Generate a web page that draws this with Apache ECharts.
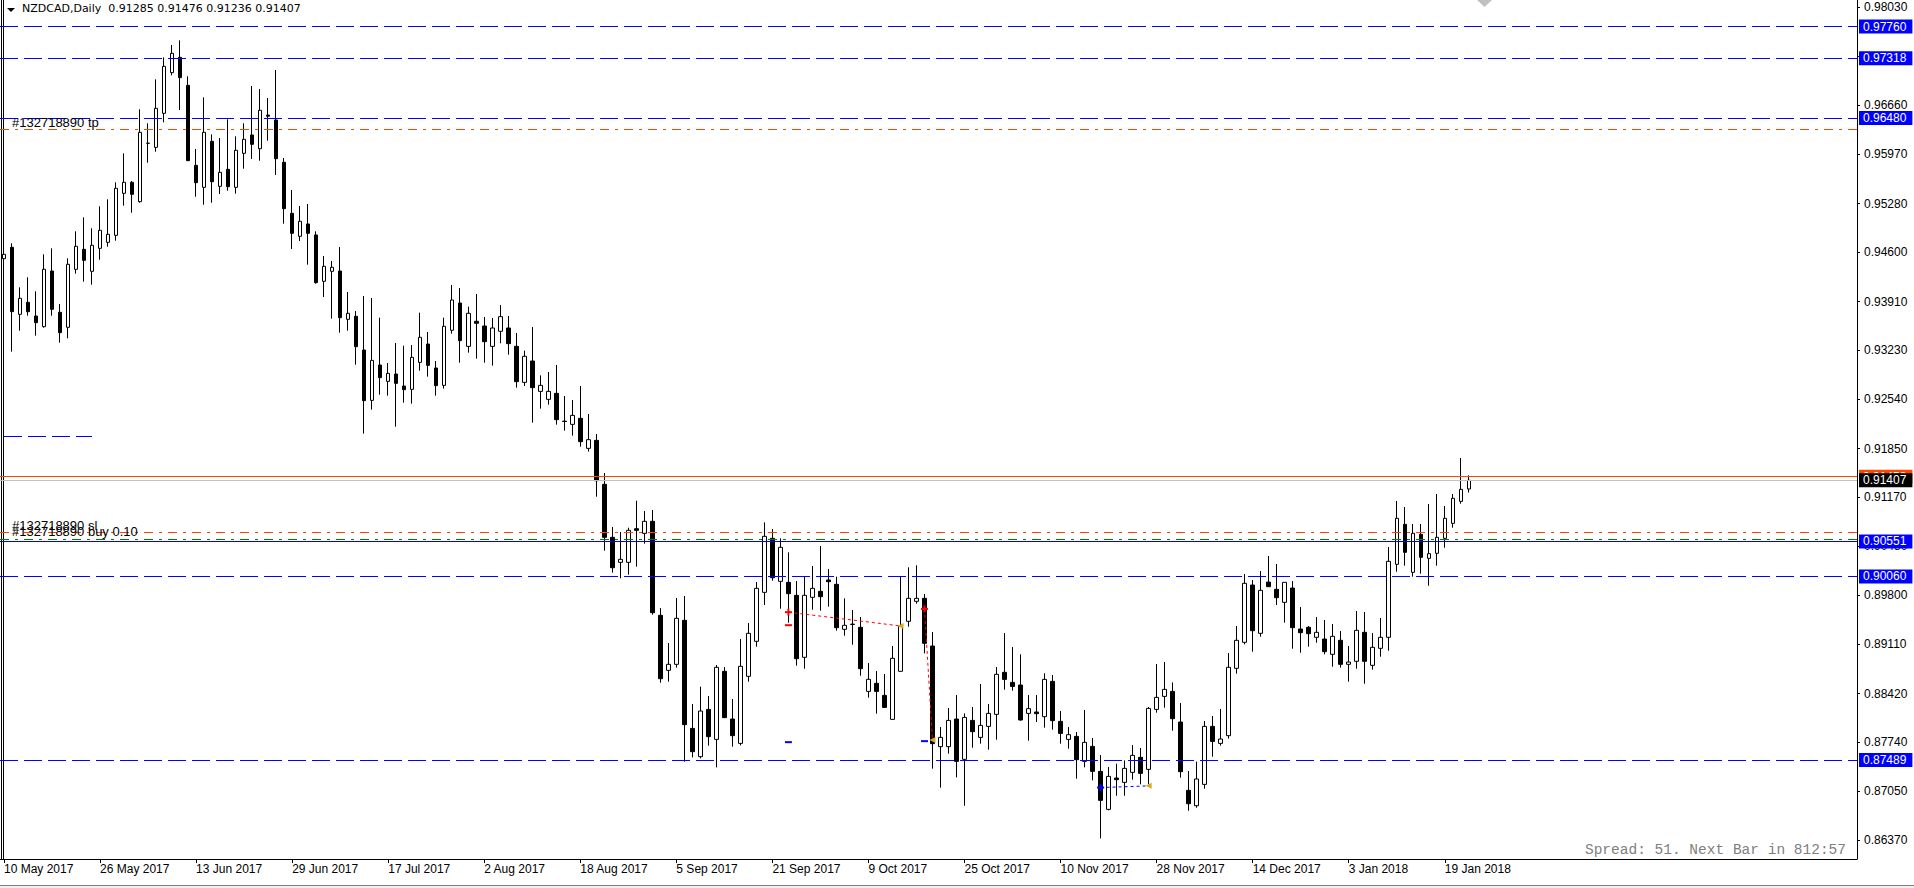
<!DOCTYPE html>
<html>
<head>
<meta charset="utf-8">
<script src="https://cdn.jsdelivr.net/npm/echarts@6/dist/echarts.min.js"></script>
<style>
html,body{margin:0;padding:0;background:#ffffff;}
#chart{width:1914px;height:888px;}
</style>
</head>
<body>
<div id="chart"></div>
<script>
// ---------- categories (daily bars) ----------
const dates = [
'10 May 2017','11 May 2017','12 May 2017','15 May 2017','16 May 2017','17 May 2017','18 May 2017','19 May 2017','22 May 2017','23 May 2017','24 May 2017','25 May 2017','26 May 2017','29 May 2017','30 May 2017','31 May 2017',
'1 Jun 2017','2 Jun 2017','5 Jun 2017','6 Jun 2017','7 Jun 2017','8 Jun 2017','9 Jun 2017','12 Jun 2017','13 Jun 2017','14 Jun 2017','15 Jun 2017','16 Jun 2017','19 Jun 2017','20 Jun 2017','21 Jun 2017','22 Jun 2017','23 Jun 2017','26 Jun 2017','27 Jun 2017','28 Jun 2017','29 Jun 2017','30 Jun 2017',
'3 Jul 2017','4 Jul 2017','5 Jul 2017','6 Jul 2017','7 Jul 2017','10 Jul 2017','11 Jul 2017','12 Jul 2017','13 Jul 2017','14 Jul 2017','17 Jul 2017','18 Jul 2017','19 Jul 2017','20 Jul 2017','21 Jul 2017','24 Jul 2017','25 Jul 2017','26 Jul 2017','27 Jul 2017','28 Jul 2017','31 Jul 2017',
'1 Aug 2017','2 Aug 2017','3 Aug 2017','4 Aug 2017','7 Aug 2017','8 Aug 2017','9 Aug 2017','10 Aug 2017','11 Aug 2017','14 Aug 2017','15 Aug 2017','16 Aug 2017','17 Aug 2017','18 Aug 2017','21 Aug 2017','22 Aug 2017','23 Aug 2017','24 Aug 2017','25 Aug 2017','28 Aug 2017','29 Aug 2017','30 Aug 2017','31 Aug 2017',
'1 Sep 2017','4 Sep 2017','5 Sep 2017','6 Sep 2017','7 Sep 2017','8 Sep 2017','11 Sep 2017','12 Sep 2017','13 Sep 2017','14 Sep 2017','15 Sep 2017','18 Sep 2017','19 Sep 2017','20 Sep 2017','21 Sep 2017','22 Sep 2017','25 Sep 2017','26 Sep 2017','27 Sep 2017','28 Sep 2017','29 Sep 2017',
'2 Oct 2017','3 Oct 2017','4 Oct 2017','5 Oct 2017','6 Oct 2017','9 Oct 2017','10 Oct 2017','11 Oct 2017','12 Oct 2017','13 Oct 2017','16 Oct 2017','17 Oct 2017','18 Oct 2017','19 Oct 2017','20 Oct 2017','23 Oct 2017','24 Oct 2017','25 Oct 2017','26 Oct 2017','27 Oct 2017','30 Oct 2017','31 Oct 2017',
'1 Nov 2017','2 Nov 2017','3 Nov 2017','6 Nov 2017','7 Nov 2017','8 Nov 2017','9 Nov 2017','10 Nov 2017','13 Nov 2017','14 Nov 2017','15 Nov 2017','16 Nov 2017','17 Nov 2017','20 Nov 2017','21 Nov 2017','22 Nov 2017','23 Nov 2017','24 Nov 2017','27 Nov 2017','28 Nov 2017','29 Nov 2017','30 Nov 2017',
'1 Dec 2017','4 Dec 2017','5 Dec 2017','6 Dec 2017','7 Dec 2017','8 Dec 2017','11 Dec 2017','12 Dec 2017','13 Dec 2017','14 Dec 2017','15 Dec 2017','18 Dec 2017','19 Dec 2017','20 Dec 2017','21 Dec 2017','22 Dec 2017','26 Dec 2017','27 Dec 2017','28 Dec 2017','29 Dec 2017',
'2 Jan 2018','3 Jan 2018','4 Jan 2018','5 Jan 2018','8 Jan 2018','9 Jan 2018','10 Jan 2018','11 Jan 2018','12 Jan 2018','15 Jan 2018','16 Jan 2018','17 Jan 2018','18 Jan 2018','19 Jan 2018','22 Jan 2018','23 Jan 2018','24 Jan 2018'
];

// ---------- OHLC series ----------
const opens = [
0.94510,0.94669,0.93731,0.93899,0.93707,0.93558,0.94337,0.93759,0.93549,0.94361,
0.94641,0.94333,0.94655,0.94739,0.94837,0.95425,0.95579,0.95308,0.96125,0.96069,
0.96545,0.97115,0.97329,0.96937,0.95817,0.95509,0.96153,0.95523,0.95761,0.95509,
0.95985,0.96242,0.96050,0.96520,0.96452,0.95859,0.95145,0.94823,0.94996,0.94842,
0.94193,0.94333,0.94337,0.93661,0.93703,0.93231,0.92526,0.93021,0.92792,0.92895,
0.92727,0.92680,0.93058,0.93315,0.92979,0.92736,0.93507,0.93889,0.93282,0.93633,
0.93567,0.93282,0.93493,0.93539,0.93283,0.92778,0.93077,0.92652,0.92540,0.92624,
0.92235,0.92190,0.92274,0.91854,0.91966,0.91350,0.90608,0.90258,0.90258,0.90729,
0.90664,0.90832,0.89516,0.88746,0.88830,0.89446,0.87933,0.87537,0.88199,0.87779,
0.88732,0.88064,0.87723,0.88662,0.89152,0.89838,0.90594,0.89992,0.89978,0.89796,
0.88928,0.89768,0.89852,0.90011,0.89950,0.89320,0.89392,0.89348,0.88451,0.88564,
0.88395,0.88059,0.88732,0.89432,0.89712,0.89754,0.89086,0.87677,0.87677,0.88064,
0.87499,0.88045,0.87807,0.87961,0.88129,0.88718,0.88577,0.88540,0.88143,0.88162,
0.88097,0.88591,0.88031,0.87779,0.87821,0.87471,0.87681,0.87331,0.86799,0.87238,
0.87177,0.87317,0.87527,0.87359,0.88199,0.88381,0.88451,0.88022,0.87065,0.86850,
0.87149,0.87961,0.87723,0.87831,0.88774,0.89138,0.89940,0.89264,0.89982,0.89880,
0.89698,0.89898,0.89324,0.89348,0.89208,0.89184,0.88970,0.89166,0.88830,0.88872,
0.89278,0.88816,0.89054,0.89208,0.90230,0.90790,0.90118,0.90650,0.90314,0.90384,
0.90594,0.90804,0.91112,0.91285
];
const highs = [
0.95238,0.94725,0.94109,0.94249,0.94053,0.94571,0.94655,0.93875,0.94515,0.94893,
0.95089,0.94935,0.95243,0.95341,0.95579,0.95985,0.95598,0.96601,0.96405,0.97021,
0.97329,0.97502,0.97567,0.97063,0.96046,0.96769,0.96251,0.96200,0.96461,0.96223,
0.96405,0.96928,0.96886,0.96760,0.97152,0.95920,0.95472,0.95248,0.95276,0.94893,
0.94547,0.94477,0.94673,0.94043,0.93777,0.93987,0.93959,0.93684,0.93049,0.93329,
0.93292,0.93301,0.93754,0.93483,0.93077,0.93684,0.94141,0.94099,0.93838,0.94015,
0.93693,0.93679,0.93861,0.93707,0.93469,0.93222,0.93553,0.92876,0.92923,0.93021,
0.92587,0.92531,0.92727,0.92335,0.92055,0.91509,0.90753,0.90683,0.90743,0.91121,
0.90977,0.90991,0.89618,0.89128,0.89758,0.89786,0.88274,0.88517,0.88386,0.88820,
0.88792,0.88344,0.89184,0.89408,0.89982,0.90818,0.90725,0.90594,0.90398,0.89996,
0.90062,0.90207,0.90487,0.90165,0.90057,0.89754,0.89590,0.89492,0.88848,0.88736,
0.88694,0.89086,0.90057,0.90188,0.90216,0.89814,0.89282,0.87952,0.88218,0.88400,
0.88143,0.88232,0.88554,0.88274,0.88792,0.89268,0.89072,0.88970,0.88400,0.88400,
0.88704,0.88680,0.88176,0.87952,0.87882,0.88190,0.87798,0.87560,0.87392,0.87439,
0.87485,0.87700,0.87658,0.88232,0.88834,0.88862,0.88577,0.88288,0.87336,0.87467,
0.88036,0.88106,0.88204,0.88988,0.89366,0.90094,0.90010,0.90136,0.90347,0.90234,
0.89980,0.89996,0.89632,0.89366,0.89492,0.89450,0.89394,0.89296,0.89086,0.89576,
0.89562,0.89268,0.89478,0.90473,0.91117,0.91033,0.90795,0.90795,0.91075,0.91215,
0.91047,0.91215,0.91719,0.91476
];
const lows = [
0.94445,0.93208,0.93502,0.93712,0.93432,0.93544,0.93712,0.93334,0.93395,0.94300,
0.94188,0.94146,0.94496,0.94678,0.94762,0.95252,0.95154,0.95294,0.95854,0.96008,
0.96419,0.97077,0.96592,0.95880,0.95378,0.95266,0.95294,0.95416,0.95462,0.95420,
0.95770,0.95906,0.95882,0.96162,0.95682,0.95000,0.94645,0.94757,0.94426,0.94160,
0.93973,0.93670,0.93474,0.93502,0.93026,0.92060,0.92396,0.92606,0.92592,0.92158,
0.92494,0.92480,0.92942,0.92858,0.92592,0.92690,0.93460,0.93054,0.93194,0.93110,
0.93054,0.93012,0.93325,0.93166,0.92704,0.92727,0.92214,0.92410,0.92466,0.92186,
0.92102,0.92032,0.91878,0.91808,0.91177,0.90421,0.90113,0.90034,0.90085,0.90197,
0.90519,0.89525,0.88573,0.88587,0.88783,0.87467,0.87527,0.87513,0.87691,0.87387,
0.88080,0.87677,0.87695,0.88587,0.89077,0.89660,0.90001,0.89609,0.89413,0.88811,
0.88769,0.89595,0.89581,0.89637,0.89301,0.89231,0.89105,0.88671,0.88363,0.88139,
0.88225,0.88057,0.88730,0.89357,0.89679,0.88984,0.87369,0.87103,0.87579,0.87247,
0.86850,0.87663,0.87719,0.87635,0.87775,0.88475,0.88461,0.88041,0.87761,0.88022,
0.87943,0.87915,0.87719,0.87649,0.87229,0.87387,0.87205,0.86393,0.86785,0.86990,
0.86990,0.87215,0.87149,0.87149,0.88153,0.88223,0.87901,0.87243,0.86780,0.86822,
0.87088,0.87537,0.87691,0.87789,0.88699,0.89110,0.89007,0.89217,0.89915,0.89660,
0.89413,0.89049,0.88993,0.89077,0.89133,0.88970,0.88797,0.88783,0.88587,0.88769,
0.88559,0.88755,0.88937,0.89021,0.90127,0.90211,0.90057,0.90099,0.89931,0.90211,
0.90463,0.90743,0.91079,0.91236
];
const closes = [
0.94571,0.93768,0.93955,0.93768,0.93614,0.94361,0.93801,0.93474,0.94431,0.94683,
0.94487,0.94697,0.94907,0.94851,0.95495,0.95579,0.95411,0.96279,0.96127,0.96615,
0.97203,0.97385,0.97045,0.95882,0.95574,0.96279,0.95588,0.95719,0.95518,0.96027,
0.96181,0.96111,0.96587,0.96505,0.95910,0.95210,0.94865,0.95033,0.94865,0.94174,
0.94403,0.94389,0.93684,0.93745,0.93278,0.92522,0.93086,0.92844,0.92904,0.92764,
0.92676,0.93128,0.93409,0.93016,0.92732,0.93563,0.93931,0.93362,0.93745,0.93605,
0.93348,0.93539,0.93698,0.93320,0.92788,0.93143,0.92704,0.92736,0.92652,0.92256,
0.92230,0.92316,0.91948,0.91976,0.91401,0.90608,0.90183,0.90300,0.90706,0.90706,
0.90832,0.89553,0.88629,0.88830,0.89474,0.87985,0.87607,0.88176,0.87817,0.88788,
0.88083,0.87831,0.88802,0.89264,0.89894,0.90622,0.90043,0.90468,0.89819,0.88909,
0.89796,0.89894,0.89777,0.89987,0.89343,0.89376,0.89388,0.88769,0.88620,0.88451,
0.88227,0.88914,0.89362,0.89754,0.89754,0.89124,0.87719,0.87807,0.88045,0.87471,
0.88087,0.87887,0.87975,0.88143,0.88690,0.88619,0.88521,0.88050,0.88209,0.88139,
0.88619,0.88041,0.87863,0.87845,0.87495,0.87737,0.87331,0.86925,0.87261,0.87215,
0.87373,0.87555,0.87303,0.88213,0.88367,0.88479,0.88069,0.87327,0.86878,0.87224,
0.87961,0.87751,0.87784,0.88788,0.89166,0.89964,0.89301,0.89866,0.89917,0.89763,
0.89978,0.89343,0.89273,0.89259,0.89278,0.89007,0.89222,0.88830,0.88862,0.89306,
0.88872,0.89068,0.89208,0.90272,0.90874,0.90398,0.90664,0.90328,0.90379,0.90608,
0.90874,0.91154,0.91280,0.91407
];

// ---------- price-axis tick labels ----------
const priceTicks = [0.86370,0.87050,0.87740,0.88420,0.89110,0.89800,0.90480,0.91170,0.91850,
                    0.92540,0.93230,0.93910,0.94600,0.95280,0.95970,0.96660,0.97340,0.98030];

// ---------- horizontal levels ----------
const blueDashLevels = [0.97760, 0.97318, 0.96480, 0.90060, 0.87489];
const blueSolidLevel = 0.90551;
const tpLevel = 0.96326;
const slLevel = 0.90680;
const openLevel = 0.90582;
const askLevel = 0.91458;
const shortLevel = 0.92028;
const shortLevelRange = [0, 11];

// ---------- trade history (bar index, price) ----------
const tradeOpenIdx = [98, 115, 137];
const tradeOpenPx = [0.89560, 0.89606, 0.87104];
const tradeCloseIdx = [112, 116, 143];
const tradeClosePx = [0.89367, 0.87772, 0.87128];
const tradeColor = ['#ff0000', '#ff0000', '#0000ff'];
const tradeTpIdx = [98, 115];
const tradeTpPx = [0.87740, 0.87754];
const tradeSlIdx = [98];
const tradeSlPx = [0.89378];

const futureBars = 48;

// ---------- build ----------
const xCats = dates.concat(new Array(futureBars).fill(''));
const candles = opens.map((o, i) => [o, closes[i], lows[i], highs[i]]);
const last = opens.length - 1;
const bidLevel = closes[last];
const FONT = 'Liberation Sans';
const showIdx = (i) => i % 12 === 0 && i < dates.length;

const dashBlue = {color: '#0000ff', width: 1, type: [18, 6]};
const dashDotOrange = {color: '#ff4500', width: 1, type: [9, 6, 3, 6]};
const dashDotGreen = {color: '#008000', width: 1, type: [9, 6, 3, 6]};

function boxLabel(v, bg) {
  return {show: true, position: 'end', formatter: v.toFixed(5), backgroundColor: bg, color: '#ffffff',
          padding: [1, 6, 0, 4], distance: 2, fontFamily: FONT, fontSize: 12, lineHeight: 13};
}
function descLabel(txt, dy) {
  return {show: true, position: 'insideStartTop', formatter: txt, color: '#000000',
          fontFamily: FONT, fontSize: 13, distance: [12, dy]};
}

const mlData = [];
blueDashLevels.forEach(v => mlData.push({yAxis: v, lineStyle: dashBlue, label: boxLabel(v, '#0000ff')}));
mlData.push({yAxis: tpLevel, lineStyle: dashDotOrange, label: descLabel('#132718890 tp', 0)});
mlData.push({yAxis: slLevel, lineStyle: dashDotOrange, label: descLabel('#132718890 sl', 0)});
mlData.push({yAxis: openLevel, lineStyle: dashDotGreen, label: descLabel('#132718890 buy 0.10', 1)});
mlData.push({yAxis: blueSolidLevel, lineStyle: {color: '#0000ff', width: 1, type: 'solid'}, label: boxLabel(blueSolidLevel, '#0000ff')});
mlData.push({yAxis: askLevel, lineStyle: {color: '#ff4500', width: 1, type: 'solid'}, label: boxLabel(askLevel, '#ff4500')});
mlData.push({yAxis: bidLevel, lineStyle: {color: '#c0c0c0', width: 1, type: 'solid'}, label: boxLabel(bidLevel, '#000000')});
mlData.push([{coord: [shortLevelRange[0], shortLevel], lineStyle: dashBlue},
             {coord: [shortLevelRange[1], shortLevel], lineStyle: dashBlue}]);
tradeOpenIdx.forEach((ix, k) => {
  const ls = {color: tradeColor[k], width: 1, type: [3, 3]};
  mlData.push([{coord: [ix, tradeOpenPx[k]], lineStyle: ls},
               {coord: [tradeCloseIdx[k], tradeClosePx[k]], lineStyle: ls}]);
});

const mpData = [];
tradeOpenIdx.forEach((ix, k) => {
  mpData.push({coord: [ix, tradeOpenPx[k]], symbol: 'rect', symbolSize: [7, 2], itemStyle: {color: tradeColor[k]}});
  mpData.push({coord: [ix, tradeOpenPx[k]], symbol: 'rect', symbolSize: [2, 7], itemStyle: {color: tradeColor[k]}});
  mpData.push({coord: [tradeCloseIdx[k], tradeClosePx[k]], symbol: 'triangle', symbolSize: [6, 6], symbolRotate: 90, itemStyle: {color: '#daa520'}});
});
tradeTpIdx.forEach((ix, k) => mpData.push({coord: [ix, tradeTpPx[k]], symbol: 'rect', symbolSize: [7, 2], itemStyle: {color: '#0000ff'}}));
tradeSlIdx.forEach((ix, k) => mpData.push({coord: [ix, tradeSlPx[k]], symbol: 'rect', symbolSize: [7, 2], itemStyle: {color: '#ff0000'}}));

const chart = echarts.init(document.getElementById('chart'), null, {renderer: 'svg', width: 1914, height: 888});

const option = {
  animation: false,
  backgroundColor: '#ffffff',
  title: [
    {text: 'NZDCAD,Daily  ' + [opens[last], highs[last], lows[last], closes[last]].map(v => v.toFixed(5)).join(' '),
     left: 22, top: 3, padding: 0,
     textStyle: {fontFamily: 'DejaVu Sans', fontSize: 11, fontWeight: 'normal', color: '#000000'}},
    {text: 'Spread: 51. Next Bar in 812:57', right: 68, top: 842, padding: 0,
     textStyle: {fontFamily: 'Liberation Mono', fontSize: 14.5, fontWeight: 'normal', color: '#808080'}}
  ],
  grid: {left: 0, right: 57, top: 0, bottom: 29, containLabel: false, outerBoundsMode: 'none'},
  xAxis: {
    type: 'category', data: xCats, boundaryGap: true,
    axisLine: {show: true, lineStyle: {color: '#000000', width: 1}},
    axisTick: {show: true, alignWithLabel: true, length: 4, interval: showIdx, lineStyle: {color: '#000000'}},
    axisLabel: {show: true, interval: showIdx, align: 'left', margin: 4, color: '#000000',
                fontSize: 12, fontFamily: FONT, hideOverlap: false},
    splitLine: {show: false}
  },
  yAxis: {
    type: 'value', position: 'right', min: 0.86104, max: 0.98132, scale: true,
    axisLine: {show: true, lineStyle: {color: '#000000', width: 1}},
    axisTick: {show: true, length: 3, customValues: priceTicks, lineStyle: {color: '#000000'}},
    axisLabel: {show: true, customValues: priceTicks, formatter: v => v.toFixed(5), margin: 7,
                color: '#000000', fontSize: 12, fontFamily: FONT, showMinLabel: true, showMaxLabel: true},
    splitLine: {show: false}
  },
  series: [
    {
      type: 'line', data: [], z: 1, silent: true, showSymbol: false,
      markLine: {silent: true, precision: 5, symbol: ['none', 'none'], animation: false, label: {show: false},
                 emphasis: {disabled: true}, data: mlData},
      markPoint: {silent: true, precision: 5, animation: false, label: {show: false}, data: mpData}
    },
    {
      type: 'candlestick', z: 3, silent: true, data: candles, barWidth: 4,
      itemStyle: {color: '#ffffff', color0: '#000000', borderColor: '#000000', borderColor0: '#000000',
                  borderColorDoji: '#000000', borderWidth: 1}
    }
  ],
  graphic: {elements: [
    {type: 'line', shape: {x1: 1.5, y1: 0, x2: 1.5, y2: 859}, style: {stroke: '#000000', lineWidth: 1}, silent: true},
    {type: 'line', shape: {x1: 3.5, y1: 0, x2: 3.5, y2: 859}, style: {stroke: '#000000', lineWidth: 1}, silent: true},
    {type: 'polygon', shape: {points: [[7, 8], [15, 8], [11, 12]]}, style: {fill: '#000000'}, silent: true},
    {type: 'polygon', shape: {points: [[1477, 0], [1492, 0], [1484.5, 7]]}, style: {fill: '#c0c0c0'}, silent: true},
    {type: 'rect', shape: {x: 0, y: 885, width: 1914, height: 3}, style: {fill: '#f0f0f0'}, silent: true},
    {type: 'line', shape: {x1: 0, y1: 885.5, x2: 1914, y2: 885.5}, style: {stroke: '#808080', lineWidth: 1}, silent: true}
  ]}
};
chart.setOption(option);
</script>
</body>
</html>
